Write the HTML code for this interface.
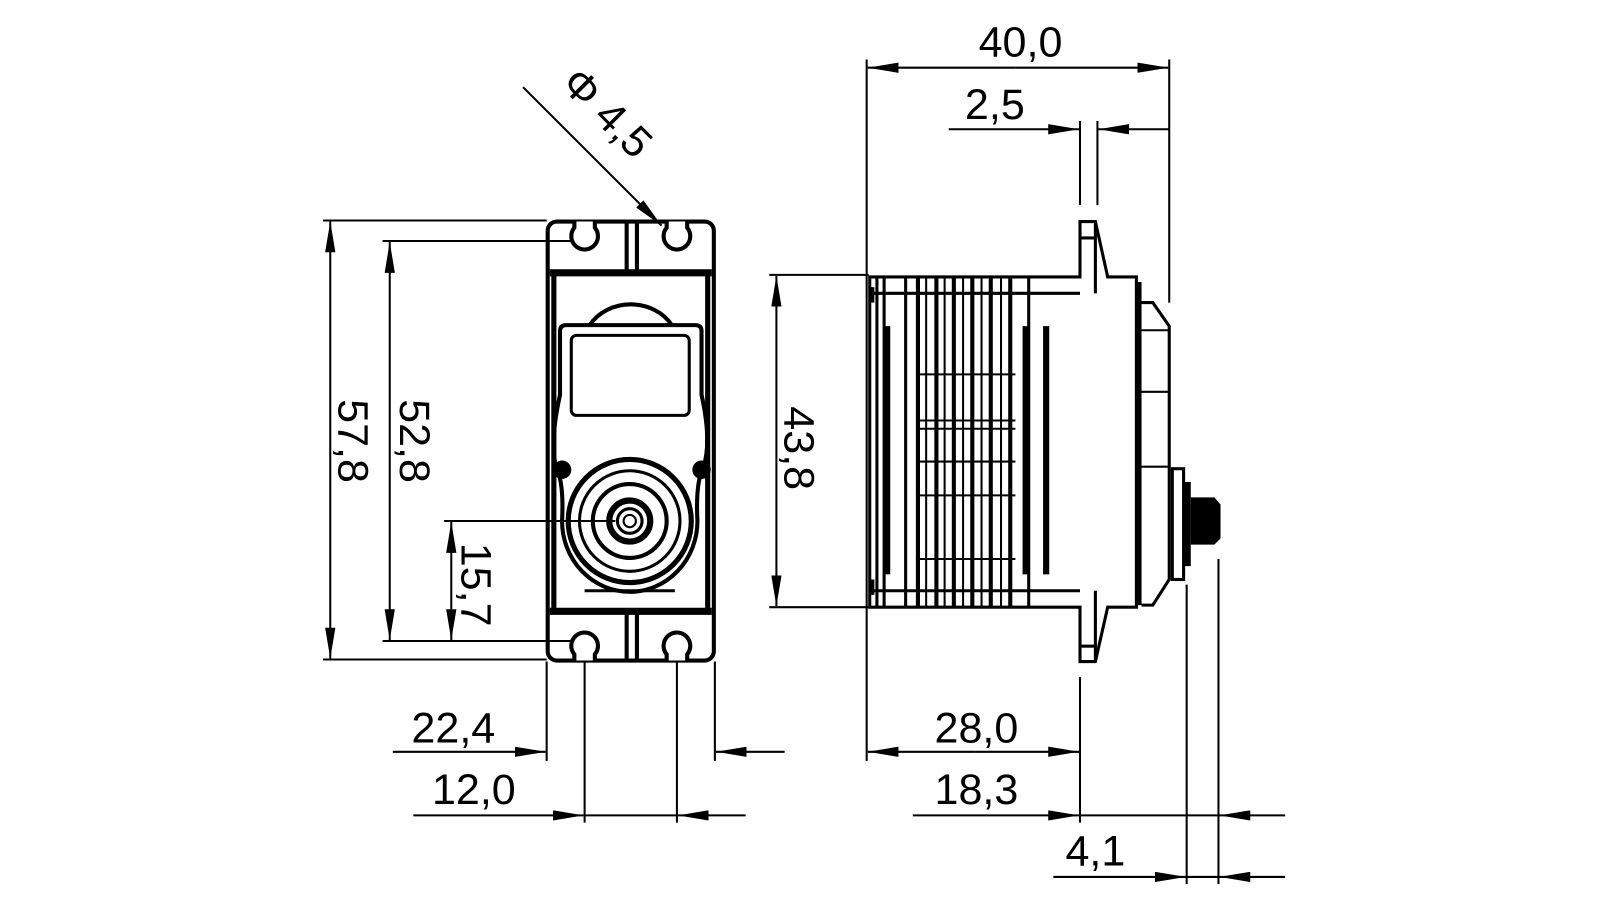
<!DOCTYPE html>
<html><head><meta charset="utf-8"><style>
html,body{margin:0;padding:0;background:#fff;}
svg{display:block;}
text{font-family:"Liberation Sans",sans-serif;font-size:42px;fill:#000;}
</style></head><body>
<svg width="1600" height="900" viewBox="0 0 1560 877.5" preserveAspectRatio="none" xmlns="http://www.w3.org/2000/svg">
<defs>
<marker id="a" viewBox="0 0 30 10" refX="30" refY="5" markerWidth="30" markerHeight="10" markerUnits="userSpaceOnUse" orient="auto"><path d="M0,0 L30,5 L0,10 Z" fill="#000"/></marker>
</defs>
<g stroke="#000" fill="none" stroke-width="2">
<line x1="315" y1="215" x2="533" y2="215"/>
<line x1="315" y1="643" x2="533" y2="643"/>
<line x1="322" y1="430" x2="322" y2="216" marker-end="url(#a)"/>
<line x1="322" y1="430" x2="322" y2="642" marker-end="url(#a)"/>
<line x1="373" y1="235" x2="557" y2="235"/>
<line x1="373" y1="625" x2="557" y2="625"/>
<line x1="380" y1="430" x2="380" y2="236" marker-end="url(#a)"/>
<line x1="380" y1="430" x2="380" y2="624" marker-end="url(#a)"/>
<line x1="433" y1="508" x2="600" y2="508"/>
<line x1="440" y1="565" x2="440" y2="509" marker-end="url(#a)"/>
<line x1="440" y1="565" x2="440" y2="624" marker-end="url(#a)"/>
<line x1="533" y1="645" x2="533" y2="742"/>
<line x1="697" y1="645" x2="697" y2="742"/>
<line x1="383" y1="733" x2="532" y2="733" marker-end="url(#a)"/>
<line x1="765" y1="733" x2="698" y2="733" marker-end="url(#a)"/>
<line x1="570" y1="636" x2="570" y2="802"/>
<line x1="660" y1="636" x2="660" y2="802"/>
<line x1="403" y1="795" x2="569" y2="795" marker-end="url(#a)"/>
<line x1="570" y1="795" x2="660" y2="795"/>
<line x1="727" y1="795" x2="661" y2="795" marker-end="url(#a)"/>
<line x1="510" y1="85" x2="645" y2="220" marker-end="url(#a)"/>
<rect x="534" y="216" width="162" height="428" rx="9" stroke-width="4"/>
<line x1="536" y1="266" x2="694" y2="266" stroke-width="7"/>
<line x1="536" y1="596" x2="694" y2="596" stroke-width="7"/>
<line x1="540" y1="266" x2="540" y2="596" stroke-width="5"/>
<line x1="690" y1="266" x2="690" y2="596" stroke-width="5"/>
<line x1="611" y1="216" x2="611" y2="266" stroke-width="4"/>
<line x1="621" y1="216" x2="621" y2="266" stroke-width="4"/>
<line x1="611" y1="596" x2="611" y2="644" stroke-width="4"/>
<line x1="621" y1="596" x2="621" y2="644" stroke-width="4"/>
<path d="M560,216 L560,222 A13,13 0 1,0 580,222 L580,216" fill="#fff" stroke-width="4"/>
<path d="M650,216 L650,222 A13,13 0 1,0 670,222 L670,216" fill="#fff" stroke-width="4"/>
<path d="M560,644 L560,638 A13,13 0 1,1 580,638 L580,644" fill="#fff" stroke-width="4"/>
<path d="M650,644 L650,638 A13,13 0 1,1 670,638 L670,644" fill="#fff" stroke-width="4"/>
<path d="M575,317 A46,40 0 0,1 655,317" stroke-width="4"/>
<path d="M552,317 L678,317 Q684,317 684,323 L684,385 Q694,430 686,455 Q678,470 680,508 A65,68 0 0,1 548,508 Q550,470 542,455 Q536,430 546,385 L546,323 Q546,317 552,317 Z" stroke-width="4"/>
<rect x="557" y="327" width="115" height="78" rx="5" stroke-width="3"/>
<circle cx="548" cy="458" r="9" fill="#000" stroke="none"/>
<circle cx="684" cy="458" r="9" fill="#000" stroke="none"/>
<circle cx="614" cy="508" r="60" stroke-width="5"/>
<circle cx="614" cy="508" r="49" stroke-width="3"/>
<circle cx="614" cy="508" r="36" stroke-width="4"/>
<circle cx="614" cy="508" r="20" stroke-width="6"/>
<circle cx="614" cy="508" r="12" stroke-width="3"/>
<circle cx="614" cy="508" r="6" stroke-width="2"/>
<line x1="570" y1="576" x2="658" y2="576" stroke-width="3"/>
<line x1="845" y1="58" x2="845" y2="742"/>
<line x1="1140" y1="58" x2="1140" y2="295"/>
<line x1="990" y1="66" x2="846" y2="66" marker-end="url(#a)"/>
<line x1="990" y1="66" x2="1139" y2="66" marker-end="url(#a)"/>
<line x1="1053" y1="118" x2="1053" y2="200"/>
<line x1="1070" y1="118" x2="1070" y2="200"/>
<line x1="925" y1="126" x2="1052" y2="126" marker-end="url(#a)"/>
<line x1="1140" y1="126" x2="1071" y2="126" marker-end="url(#a)"/>
<line x1="750" y1="268" x2="847" y2="268"/>
<line x1="750" y1="592" x2="847" y2="592"/>
<line x1="757" y1="430" x2="757" y2="269" marker-end="url(#a)"/>
<line x1="757" y1="430" x2="757" y2="591" marker-end="url(#a)"/>
<line x1="950" y1="733" x2="846" y2="733" marker-end="url(#a)"/>
<line x1="950" y1="733" x2="1052" y2="733" marker-end="url(#a)"/>
<line x1="1053" y1="660" x2="1053" y2="802"/>
<line x1="1157" y1="570" x2="1157" y2="862"/>
<line x1="1188" y1="545" x2="1188" y2="862"/>
<line x1="890" y1="795" x2="1052" y2="795" marker-end="url(#a)"/>
<line x1="1053" y1="795" x2="1188" y2="795"/>
<line x1="1253" y1="795" x2="1189" y2="795" marker-end="url(#a)"/>
<line x1="1027" y1="855" x2="1156" y2="855" marker-end="url(#a)"/>
<line x1="1157" y1="855" x2="1188" y2="855"/>
<line x1="1253" y1="855" x2="1189" y2="855" marker-end="url(#a)"/>
<g stroke-width="3">
<path d="M848,270 L1053,270 L1053,216 L1068,216 L1080,270 L1108,270 L1108,592 L1080,592 L1068,645 L1053,645 L1053,592 L848,592 Z"/>
<line x1="848" y1="286" x2="1053" y2="286"/>
<line x1="848" y1="576" x2="1053" y2="576"/>
<line x1="1068" y1="216" x2="1068" y2="286"/>
<line x1="1068" y1="576" x2="1068" y2="645"/>
<line x1="1053" y1="232" x2="1068" y2="232"/>
<line x1="1053" y1="630" x2="1068" y2="630"/>
<line x1="855" y1="270" x2="855" y2="592"/>
<line x1="862" y1="270" x2="862" y2="592"/>
<line x1="883" y1="270" x2="883" y2="592"/>
<line x1="1003" y1="270" x2="1003" y2="592"/>
</g>
<line x1="865" y1="318" x2="865" y2="560" stroke-width="6"/>
<line x1="1020" y1="318" x2="1020" y2="560" stroke-width="6"/>
<line x1="1000" y1="318" x2="1000" y2="560" stroke-width="6"/>
<line x1="850" y1="280" x2="850" y2="295" stroke-width="5"/>
<line x1="850" y1="565" x2="850" y2="580" stroke-width="5"/>
<g stroke-width="4">
<line x1="913" y1="270" x2="913" y2="592"/>
<line x1="930" y1="270" x2="930" y2="592"/>
<line x1="948" y1="270" x2="948" y2="592"/>
<line x1="966" y1="270" x2="966" y2="592"/>
<line x1="985" y1="270" x2="985" y2="592"/>
<line x1="895" y1="270" x2="895" y2="592"/>
</g>
<g stroke-width="2">
<line x1="903" y1="270" x2="903" y2="592"/>
<line x1="921" y1="270" x2="921" y2="592"/>
<line x1="939" y1="270" x2="939" y2="592"/>
<line x1="957" y1="270" x2="957" y2="592"/>
<line x1="976" y1="270" x2="976" y2="592"/>
<line x1="893" y1="365" x2="990" y2="365"/>
<line x1="893" y1="410" x2="990" y2="410"/>
<line x1="893" y1="418" x2="990" y2="418"/>
<line x1="893" y1="450" x2="990" y2="450"/>
<line x1="893" y1="483" x2="990" y2="483"/>
<line x1="893" y1="545" x2="990" y2="545"/>
</g>
<path d="M1110,275 L1110,590" stroke-width="6"/>
<path d="M1113,295 L1124,295 L1140,318 L1140,565 L1124,590 L1113,590" stroke-width="3"/>
<line x1="1113" y1="322" x2="1140" y2="322" stroke-width="2"/>
<line x1="1113" y1="382" x2="1140" y2="382" stroke-width="2"/>
<line x1="1113" y1="455" x2="1140" y2="455" stroke-width="2"/>
<rect x="1143" y="457" width="11" height="108" stroke-width="3"/>
<rect x="1154" y="470" width="7" height="82" fill="#000" stroke="none"/>
<path d="M1161,485 L1184,485 L1190,492 L1190,525 L1184,531 L1161,531 Z" fill="#000" stroke="none"/>
</g>
<text transform="translate(330,430) rotate(90)" text-anchor="middle">57,8</text>
<text transform="translate(390,430) rotate(90)" text-anchor="middle">52,8</text>
<text transform="translate(450,570) rotate(90)" text-anchor="middle">15,7</text>
<text transform="translate(765,437) rotate(90)" text-anchor="middle">43,8</text>
<text x="442" y="724" text-anchor="middle">22,4</text>
<text x="462" y="784" text-anchor="middle">12,0</text>
<text x="995" y="55" text-anchor="middle">40,0</text>
<text x="970" y="116" text-anchor="middle">2,5</text>
<text x="952" y="724" text-anchor="middle">28,0</text>
<text x="952" y="784" text-anchor="middle">18,3</text>
<text x="1068" y="844" text-anchor="middle">4,1</text>
<text transform="translate(582,120) rotate(45)" text-anchor="middle">Φ 4,5</text>
</svg>
</body></html>
